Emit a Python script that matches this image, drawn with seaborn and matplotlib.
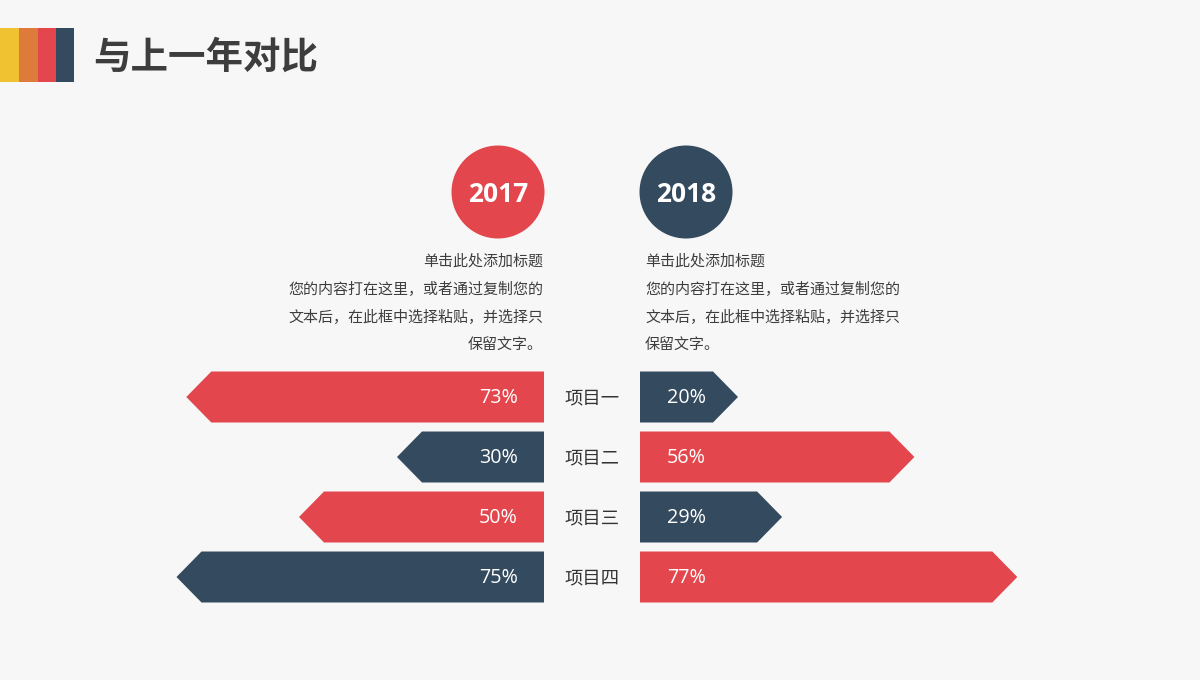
import matplotlib
matplotlib.use("Agg")
import matplotlib.pyplot as plt
import seaborn as sns
import pandas as pd
from matplotlib.patches import Polygon, Rectangle, Circle

# ---------------- data ----------------
items = ["项目一", "项目二", "项目三", "项目四"]
values_2017 = [73, 30, 50, 75]
values_2018 = [20, 56, 29, 77]
years = ["2017", "2018"]
title = "与上一年对比"
desc_lines = ["单击此处添加标题",
              "您的内容打在这里，或者通过复制您的",
              "文本后，在此框中选择粘贴，并选择只",
              "保留文字。"]

# ---------------- style ----------------
BG = "#f7f7f7"
RED = "#e3474d"
NAVY = "#344a5e"
YELLOW = "#f0c232"
ORANGE = "#de7a3a"
TEXT = "#3d3d3d"

sns.set_theme(style="white")
plt.rcParams['font.family'] = ['Noto Sans CJK SC', 'DejaVu Sans']

W, H = 1200, 680
fig = plt.figure(figsize=(12, 6.8), dpi=100, facecolor=BG)

# decoration layer in pixel coordinates
deco = fig.add_axes([0, 0, 1, 1], zorder=0)
deco.set_xlim(0, W)
deco.set_ylim(H, 0)
deco.axis('off')
deco.set_facecolor(BG)

for x0, c in zip([0, 19, 38, 56], [YELLOW, ORANGE, RED, NAVY]):
    deco.add_patch(Rectangle((x0, 28), 19 if x0 < 56 else 18, 54, color=c, lw=0))
deco.text(93, 57, title, fontsize=27, fontweight='bold', color=TEXT,
          ha='left', va='center')

for cx, yr, c in zip([498, 686], years, [RED, NAVY]):
    deco.add_patch(Circle((cx, 192), 46.5, color=c, lw=0))
    deco.text(cx, 194, yr, fontsize=19, fontweight='bold', color='white',
              family=['Open Sans', 'DejaVu Sans'], ha='center', va='center')

line_y = [261, 289, 317, 345]
for ly, t in zip(line_y, desc_lines):
    deco.text(543, ly, t, fontsize=10.8, color=TEXT, ha='right', va='center')
    deco.text(645, ly, t, fontsize=10.8, color=TEXT, ha='left', va='center')

# ---------------- bars ----------------
XMAX = 80
AX_W = 392  # pixels
px_per_unit = AX_W / XMAX
TIP_PX = 25
tip = TIP_PX / px_per_unit

bottom = 1 - 607 / H
height = 240 / H
ax_l = fig.add_axes([152 / W, bottom, AX_W / W, height], zorder=2)
ax_r = fig.add_axes([640 / W, bottom, AX_W / W, height], zorder=2)

df_l = pd.DataFrame({"item": items, "value": values_2017})
df_r = pd.DataFrame({"item": items, "value": values_2018})
pal_l = dict(zip(items, [RED, NAVY, RED, NAVY]))
pal_r = dict(zip(items, [NAVY, RED, NAVY, RED]))

for ax, df, pal in [(ax_l, df_l, pal_l), (ax_r, df_r, pal_r)]:
    sns.barplot(data=df, x="value", y="item", hue="item", palette=pal,
                orient='h', width=0.85, saturation=1, legend=False, ax=ax)
    # convert rectangles into arrow-shaped polygons
    for p in list(ax.patches):
        x0, w = p.get_x(), p.get_width()
        y0, h = p.get_y(), p.get_height()
        fc = p.get_facecolor()
        body = max(w - tip, 0)
        poly = Polygon([(x0, y0), (x0 + body, y0), (x0 + w, y0 + h / 2),
                        (x0 + body, y0 + h), (x0, y0 + h)],
                       closed=True, facecolor=fc, edgecolor='none', lw=0)
        p.remove()
        ax.add_patch(poly)
    ax.set_ylim(3.5, -0.5)
    ax.set_facecolor('none')
    ax.axis('off')

ax_l.set_xlim(XMAX, 0)
ax_r.set_xlim(0, XMAX)

pct_font = ['Open Sans', 'DejaVu Sans']
for i, v in enumerate(values_2017):
    ax_l.annotate(f"{v}%", xy=(0, i), xytext=(-19, -0.8), textcoords='offset points',
                  ha='right', va='center', color='white', fontsize=14.2,
                  family=pct_font)
for i, v in enumerate(values_2018):
    ax_r.annotate(f"{v}%", xy=(0, i), xytext=(19.5, -0.8), textcoords='offset points',
                  ha='left', va='center', color='white', fontsize=14.2,
                  family=pct_font)
for i, it in enumerate(items):
    ax_r.annotate(it, xy=(0, i), xytext=(-34.8, -0.8), textcoords='offset points',
                  ha='center', va='center', color='#333333', fontsize=13.2,
                  annotation_clip=False)

fig.savefig("out.png", dpi=100, facecolor=BG)
